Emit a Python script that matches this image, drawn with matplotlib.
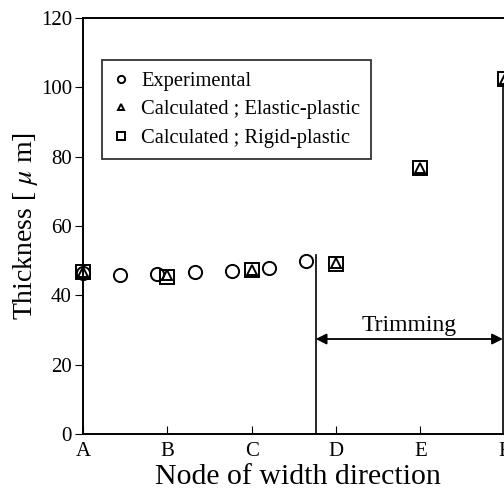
import matplotlib
matplotlib.use("Agg")
import matplotlib.pyplot as plt

plt.rcParams['font.family'] = ['Liberation Serif', 'DejaVu Serif']
plt.rcParams['mathtext.fontset'] = 'stix'

# node positions: A=0 ... F=5
node_labels = ['A', 'B', 'C', 'D', 'E', 'F']
exp_x = [0.0, 0.44, 0.88, 1.33, 1.77, 2.21, 2.65]
exp_y = [46.5, 45.9, 46.2, 46.8, 46.9, 48.0, 50.0]
elastic_x = [0, 1, 2, 3, 4, 5]
elastic_y = [46.8, 45.8, 47.4, 49.2, 76.8, 102.5]
rigid_x = [0, 1, 2, 3, 4, 5]
rigid_y = [46.6, 45.4, 47.2, 49.0, 76.6, 102.3]

trim_start = 2.76
trim_end = 4.98

fig = plt.figure(figsize=(5.04, 4.93), dpi=100)
ax = fig.add_axes([83 / 504, 59 / 493, 430 / 504, 416 / 493])

ms = 9.5
mew = 1.4
ax.plot(exp_x, exp_y, 'o', ms=ms, mfc='none', mec='black', mew=mew,
        label='Experimental', clip_on=False)
ax.plot(elastic_x, elastic_y, '^', ms=ms * 0.8, mfc='none', mec='black', mew=mew,
        label='Calculated ; Elastic-plastic', clip_on=False)
ax.plot(rigid_x, rigid_y, 's', ms=ms, mfc='none', mec='black', mew=mew,
        label='Calculated ; Rigid-plastic', clip_on=False)

# trimming region
ax.plot([trim_start, trim_start], [0, 51.5], color='black', lw=1.2)
ax.plot([trim_end, trim_end], [0, 101], color='black', lw=1.2)
ax.annotate('', xy=(trim_start, 27.4), xytext=(trim_end, 27.4),
            arrowprops=dict(arrowstyle='<|-|>', color='black', lw=1.3,
                            mutation_scale=16, shrinkA=0, shrinkB=0))
ax.text((trim_start + trim_end) / 2, 29.6, 'Trimming', ha='center',
        va='baseline', fontsize=17)

ax.set_xlim(0, 5.1)
ax.set_ylim(0, 120)
ax.set_xticks(range(6))
ax.set_xticklabels(node_labels)
ax.set_yticks(range(0, 121, 20))
ax.tick_params(axis='x', direction='in', length=6, labelsize=15, pad=6)
ax.tick_params(axis='y', direction='out', length=6, labelsize=15, pad=2)
for s in ax.spines.values():
    s.set_linewidth(1.4)
ax.spines['right'].set_visible(False)

ax.set_xlabel('Node of width direction', fontsize=21.5, labelpad=2)
ax.set_ylabel(r'Thickness [ $\mu$ m]', fontsize=20)
ax.yaxis.set_label_coords(-0.1, 0.5)

leg = ax.legend(loc='upper left', bbox_to_anchor=(0.044, 0.899), fontsize=14.8,
                markerscale=0.55, handlelength=0.8, handletextpad=0.55,
                labelspacing=0.45, borderpad=0.55, borderaxespad=0,
                frameon=True, fancybox=False)
leg.get_frame().set_edgecolor('black')
leg.get_frame().set_linewidth(1.3)

fig.savefig('out.png', dpi=100)
